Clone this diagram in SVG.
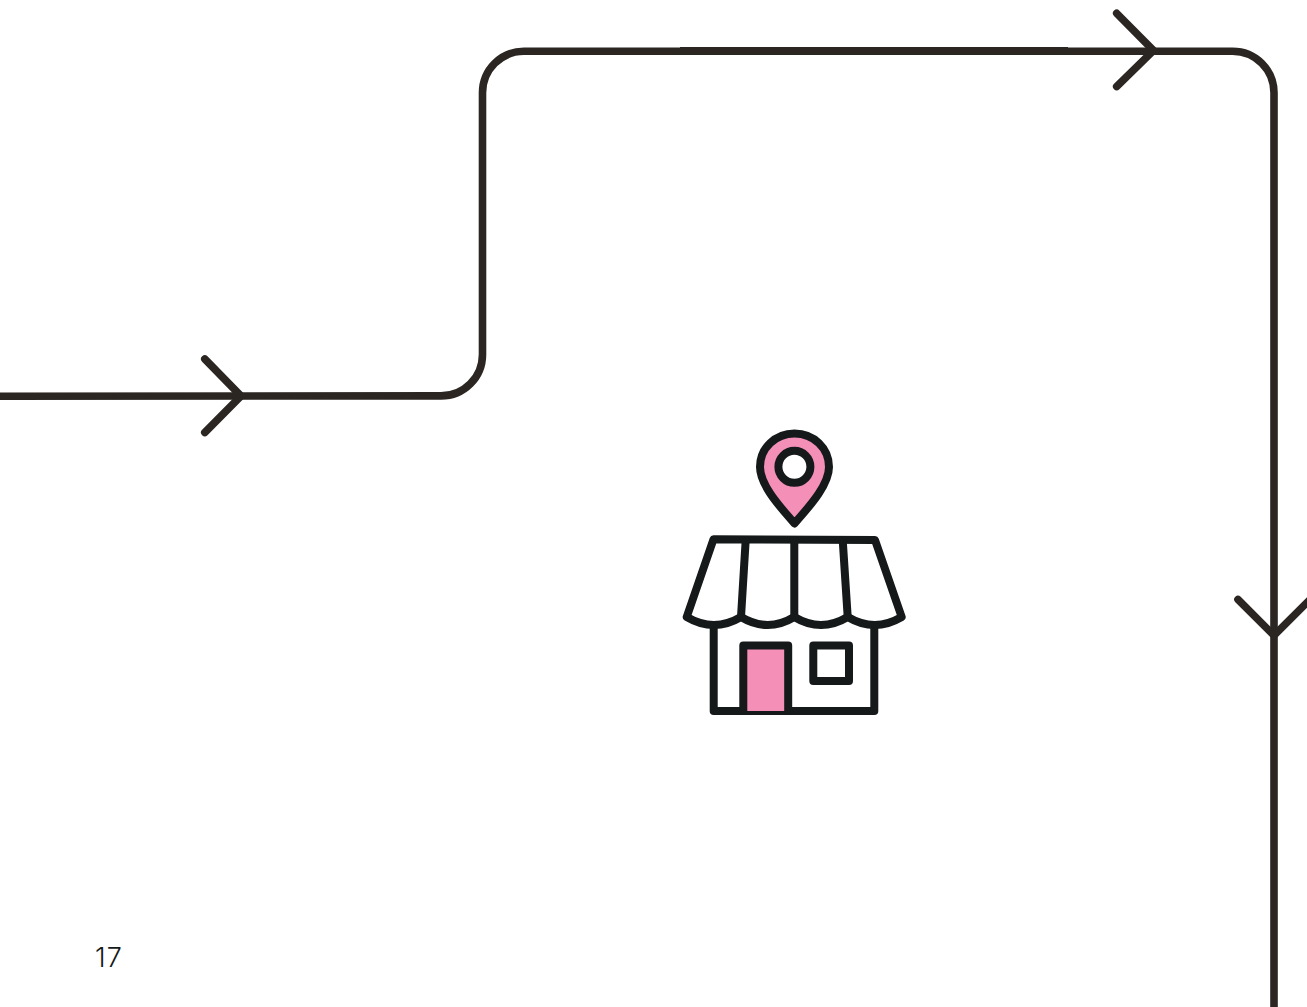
<svg xmlns="http://www.w3.org/2000/svg" width="1307" height="1007" viewBox="0 0 1307 1007">
<style>
.line{fill:none;stroke:#2b2622;stroke-width:7.6;stroke-linecap:round;stroke-linejoin:miter}
.icon{stroke:#15191a;stroke-width:8;stroke-linejoin:round;stroke-linecap:round;fill:none}
.pink{fill:#f48fb8}
.white{fill:#fff}
.num{font-family:"Inter","Liberation Sans",sans-serif;font-weight:300;font-size:27px;letter-spacing:1px;fill:#15191a}
</style>
<rect width="1307" height="1007" fill="#fff"/>
<g id="connectors">
<path class="line" style="stroke-linecap:butt" d="M-2 396.200 L441 395.900 C464 395.900 482.500 377.400 482.500 354.400 L482.500 92.800 C482.500 69.800 501 51.300 524 51.300 L1232.500 51.300 C1255.500 51.300 1274 69.800 1274 92.800 L1274 1009"/>
<path class="line" style="stroke-linecap:butt" d="M680 50.800 L1068 50.800"/>
<path class="line" d="M204.800 359 L241 396 L204.800 432.500"/>
<path class="line" d="M1116.700 13.300 L1153.500 50.500 L1116.700 86.500"/>
<path class="line" d="M1238 599.500 L1274 635.500 L1310 599.500"/>
</g>
<g id="pin">
<path class="icon pink" d="M794.500 523.500 C785 512 760 487 760 467 C760 448 775.500 433.500 794.500 433.500 C813.500 433.500 829 448 829 467 C829 487 804 512 794.500 523.500 Z"/>
<circle class="icon white" cx="794.400" cy="466.800" r="16"/>
</g>
<g id="shop">
<path class="icon white" d="M713.700 622 L713.700 711 L874.300 711 L874.300 622"/>
<path class="icon pink" d="M743.300 711 L743.300 645.500 L788.200 645.500 L788.200 711"/>
<rect class="icon white" x="813.300" y="645.500" width="35.700" height="35.500"/>
<path class="icon white" d="M713.500 539.300 L875 540 L901.700 617 Q874.700 633 847.700 617 Q821 633 794.300 617 Q767.700 633 741 617 Q714 633 686.700 617 Z"/>
<path class="icon" d="M745.700 540 L741 617 M794.300 540 L794.300 617 M842.700 540 L847.700 617"/>
</g>
<text class="num" x="95" y="967">17</text>
</svg>
